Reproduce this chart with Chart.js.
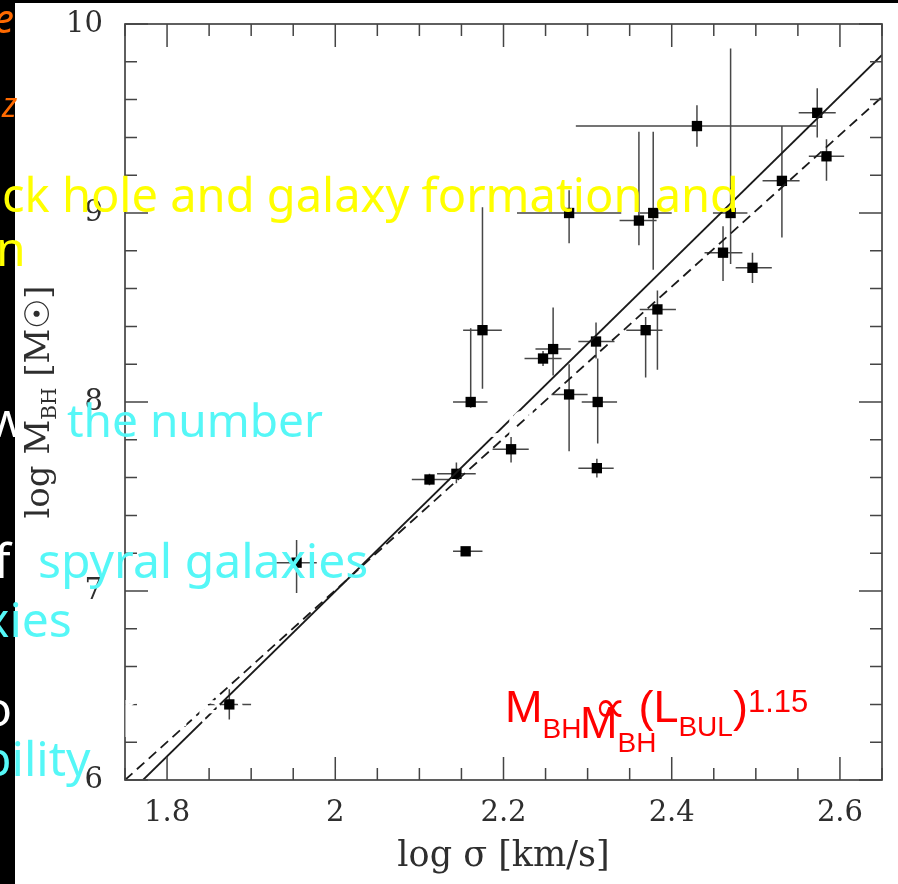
<!DOCTYPE html>
<html><head><meta charset="utf-8">
<script src="https://cdn.jsdelivr.net/npm/chart.js@4.4.0/dist/chart.umd.min.js"></script>
<style>
html,body{margin:0;padding:0;background:#000;width:898px;height:884px;overflow:hidden;}
#paper{position:absolute;left:15px;top:3px;width:883px;height:881px;background:#fff;}
#wrap{position:absolute;left:0;top:0;width:898px;height:884px;}
#overlay{position:absolute;left:0;top:0;width:898px;height:884px;overflow:hidden;}
.ov{position:absolute;white-space:nowrap;line-height:1;font-family:"Noto Sans",sans-serif;}
.sb{position:relative;}
</style></head><body>
<div id="paper"></div>
<div id="wrap"><canvas id="c" width="898" height="884"></canvas></div>
<div id="overlay"></div>
<script>
// ---- data ----
const sigma   = [1.874,1.954,2.112,2.144,2.155,2.161,2.175,2.209,2.247,2.259,2.278,2.278,2.310,2.312,2.311,2.361,2.369,2.378,2.383,2.430,2.461,2.470,2.496,2.531,2.573,2.584];
const logM    = [6.40,7.15,7.59,7.62,7.21,8.00,8.38,7.75,8.23,8.28,8.04,9.00,8.32,8.00,7.65,8.96,8.38,9.00,8.49,9.46,8.79,9.00,8.71,9.17,9.53,9.30];
const sigmaLo = [1.850,1.930,2.091,2.121,2.140,2.140,2.152,2.187,2.225,2.238,2.257,2.216,2.289,2.293,2.289,2.338,2.346,2.362,2.362,2.286,2.439,2.449,2.476,2.508,2.551,2.563];
const sigmaHi = [1.900,1.978,2.136,2.167,2.175,2.181,2.198,2.230,2.269,2.280,2.300,2.340,2.332,2.335,2.331,2.382,2.389,2.400,2.405,2.572,2.484,2.490,2.519,2.552,2.595,2.605];
const logMLo  = [6.32,6.99,7.56,7.57,7.19,7.97,8.07,7.68,8.19,8.14,7.74,8.84,8.23,7.78,7.60,8.83,8.13,8.70,8.17,9.35,8.64,8.73,8.63,8.87,9.40,9.17];
const logMHi  = [6.48,7.27,7.62,7.68,7.23,8.39,9.03,7.87,8.27,8.50,8.20,9.12,8.42,8.23,7.70,9.43,8.45,9.43,8.59,9.57,8.93,9.87,8.79,9.46,9.66,9.39];
const fitSolidSigma  = [1.7714, 2.65];
const fitSolidMass   = [6.0, 9.836];
const fitDashedSigma = [1.75, 2.65];
const fitDashedMass  = [6.0, 9.614];
const xMajorTicks = [1.8, 2.0, 2.2, 2.4, 2.6];
const xTickLabels = ['1.8', '2', '2.2', '2.4', '2.6'];
const yMajorTicks = [6, 7, 8, 9, 10];
const yTickLabels = ['6', '7', '8', '9', '10'];
const xTitle = 'log σ [km/s]';
const yTitleParts = ['log M', 'BH', ' [M\u2609]'];

function majorLabel(v, majors, labels){
  for (let i=0;i<majors.length;i++) if (Math.abs(majors[i]-v)<1e-6) return labels[i];
  return '';
}

const errorBars = {
  id:'errorBars',
  beforeDatasetsDraw(chart){
    const {ctx, chartArea:a, scales:{x,y}} = chart;
    ctx.save();
    ctx.beginPath(); ctx.rect(a.left,a.top,a.right-a.left,a.bottom-a.top); ctx.clip();
    ctx.strokeStyle='#474747'; ctx.lineWidth=1.5;
    for (let i=0;i<sigma.length;i++){
      const px=x.getPixelForValue(sigma[i]), py=y.getPixelForValue(logM[i]);
      ctx.beginPath();
      ctx.moveTo(x.getPixelForValue(sigmaLo[i]),py); ctx.lineTo(x.getPixelForValue(sigmaHi[i]),py);
      ctx.moveTo(px,y.getPixelForValue(logMLo[i])); ctx.lineTo(px,y.getPixelForValue(logMHi[i]));
      ctx.stroke();
    }
    ctx.restore();
  }
};

const frameTicks = {
  id:'frameTicks',
  afterDatasetsDraw(chart){
    const {ctx, chartArea:a, scales:{x,y}} = chart;
    ctx.save();
    ctx.strokeStyle='#444'; ctx.lineWidth=1.7;
    ctx.strokeRect(a.left,a.top,a.right-a.left,a.bottom-a.top);
    ctx.lineWidth=1.5;
    ctx.beginPath();
    x.ticks.forEach(t=>{
      const px=x.getPixelForValue(t.value), L=t.label?23:12;
      ctx.moveTo(px,a.bottom); ctx.lineTo(px,a.bottom-L);
      ctx.moveTo(px,a.top); ctx.lineTo(px,a.top+L);
    });
    y.ticks.forEach(t=>{
      const py=y.getPixelForValue(t.value), L=t.label?23:12;
      ctx.moveTo(a.left,py); ctx.lineTo(a.left+L,py);
      ctx.moveTo(a.right,py); ctx.lineTo(a.right-L,py);
    });
    ctx.stroke();
    // y axis title (rotated, with subscript)
    const cy=(a.top+a.bottom)/2;
    ctx.translate(49, cy); ctx.rotate(-Math.PI/2);
    ctx.fillStyle='#2e2e2e'; ctx.textBaseline='alphabetic'; ctx.textAlign='left';
    const big='34px "DejaVu Serif"', small='20px "DejaVu Serif"';
    ctx.font=big; const w0=ctx.measureText(yTitleParts[0]).width, w2=ctx.measureText(yTitleParts[2]).width;
    ctx.font=small; const w1=ctx.measureText(yTitleParts[1]).width;
    let sx=-(w0+w1+w2)/2;
    ctx.font=big; ctx.fillText(yTitleParts[0],sx,0); sx+=w0;
    ctx.font=small; ctx.fillText(yTitleParts[1],sx,7); sx+=w1;
    ctx.font=big; ctx.fillText(yTitleParts[2],sx,0);
    ctx.restore();
  }
};

const pts = sigma.map((s,i)=>({x:s,y:logM[i]}));
new Chart(document.getElementById('c'), {
  type:'scatter',
  data:{datasets:[
    {data:fitSolidSigma.map((s,i)=>({x:s,y:fitSolidMass[i]})), showLine:true, pointRadius:0, borderColor:'#1a1a1a', borderWidth:1.8, fill:false},
    {data:fitDashedSigma.map((s,i)=>({x:s,y:fitDashedMass[i]})), showLine:true, pointRadius:0, borderColor:'#1a1a1a', borderWidth:1.8, borderDash:[10,6], fill:false},
    {data:pts, pointStyle:'rect', pointRadius:7.3, backgroundColor:'#000', borderWidth:0}
  ]},
  options:{
    responsive:false, animation:false, devicePixelRatio:1,
    layout:{padding:{left:0,top:24,right:16,bottom:0}},
    plugins:{legend:{display:false}, tooltip:{enabled:false}},
    scales:{
      x:{type:'linear', min:1.75, max:2.65,
        grid:{display:false, drawTicks:false}, border:{display:false},
        ticks:{stepSize:0.05, autoSkip:false, maxRotation:0, padding:16, color:'#2e2e2e',
          font:{family:'"DejaVu Serif"', size:29}, callback:v=>majorLabel(v,xMajorTicks,xTickLabels)},
        title:{display:true, text:xTitle, color:'#2e2e2e', font:{family:'"DejaVu Serif"', size:35}, padding:{top:0,bottom:6}},
        afterFit(s){ s.height=104; s.paddingLeft=0; s.paddingRight=0; }
      },
      y:{type:'linear', min:6, max:10,
        grid:{display:false, drawTicks:false}, border:{display:false},
        ticks:{stepSize:0.2, autoSkip:false, padding:22, color:'#2e2e2e',
          font:{family:'"DejaVu Serif"', size:29}, callback:v=>majorLabel(v,yMajorTicks,yTickLabels)},
        afterFit(s){ s.width=125; s.paddingTop=0; s.paddingBottom=0; }
      }
    }
  },
  plugins:[errorBars, frameTicks]
});

// ---- slide text overlays ----
const ov = document.getElementById('overlay');
function place(o){
  const d=document.createElement('div');
  d.className='ov';
  d.style.fontSize=o.size+'px'; d.style.color=o.color;
  if (o.italic) d.style.fontStyle='italic';
  if (o.family) d.style.fontFamily=o.family;
  d.innerHTML=o.html;
  const probe=document.createElement('span');
  probe.style.cssText='display:inline-block;width:0;height:0;vertical-align:baseline;';
  d.appendChild(probe);
  d.style.left=o.x+'px'; d.style.top='0px';
  ov.appendChild(d);
  d.style.top=(o.base-probe.offsetTop)+'px';
}
const Y='#ffff00', C='#55f7f7', W='#ffffff', O='#ff6a00', R='#ff0000';
[
  {x:-6, base:33, size:40, color:O, italic:true, html:'e'},
  {x:2, base:117, size:34, color:O, italic:true, html:'z'},
  {x:2, base:212, size:47, color:Y, html:'ck hole and galaxy formation and'},
  {x:-4, base:266, size:48, color:Y, html:'n'},
  {x:-12, base:437, size:48, color:W, html:'w'},
  {x:67, base:437, size:46, color:C, html:'the number'},
  {x:338, base:437, size:48, color:W, html:'of supermassive'},
  {x:-6, base:578, size:48, color:W, html:'f'},
  {x:38, base:578, size:48, color:C, html:'spyral galaxies'},
  {x:-16, base:637, size:48, color:C, html:'xies'},
  {x:-17, base:726, size:48, color:W, html:'o compare with measurements'},
  {x:-18, base:776, size:48, color:C, html:'bility'},
  {x:505, base:722, size:45, color:R, family:'"Liberation Sans"',
   html:'M<span class="sb" style="font-size:28px;top:16px">BH</span> \u221D (L<span class="sb" style="font-size:28px;top:14px">BUL</span>)<span class="sb" style="font-size:31px;top:-10px">1.15</span>'},
  {x:580, base:738, size:45, color:R, family:'"Liberation Sans"',
   html:'M<span class="sb" style="font-size:28px;top:14px">BH</span>'}
].forEach(place);
</script>
</body></html>
